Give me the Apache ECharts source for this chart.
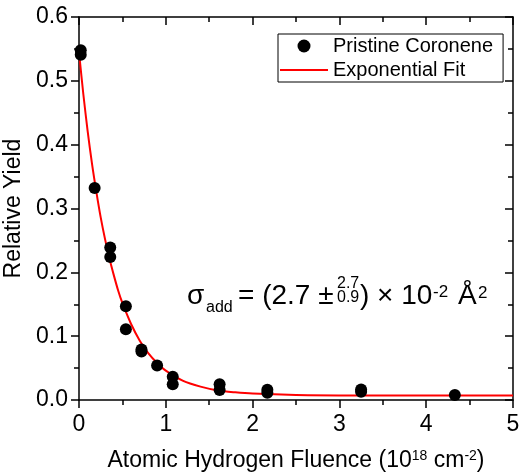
<!DOCTYPE html>
<html>
<head>
<meta charset="utf-8">
<script src="https://cdn.jsdelivr.net/npm/echarts@6/dist/echarts.min.js"></script>
<style>
html,body{margin:0;padding:0;background:#fff;}
#chart{width:520px;height:472px;}
</style>
</head>
<body>
<div id="chart"></div>
<script>
// Measured data (Relative yield vs atomic hydrogen fluence, 10^18 cm^-2)
const fluence = [0.02, 0.02, 0.18, 0.36, 0.36, 0.54, 0.54, 0.72, 0.72, 0.90, 1.08, 1.08, 1.62, 1.62, 2.17, 2.17, 3.25, 3.25, 4.33];
const yieldVals = [0.548, 0.541, 0.332, 0.239, 0.224, 0.147, 0.111, 0.079, 0.076, 0.054, 0.0365, 0.0246, 0.0246, 0.0157, 0.016, 0.0115, 0.0165, 0.013, 0.008];

// Exponential fit curve
const fitX = [0, 0.05, 0.1, 0.15, 0.2, 0.25, 0.3, 0.35, 0.4, 0.45, 0.5, 0.6, 0.7, 0.8, 0.9, 1.0, 1.2, 1.4, 1.6, 1.8, 2.0, 2.5, 3.0, 4.0, 5.0];
const fitY = [0.545, 0.479, 0.421, 0.370, 0.326, 0.286, 0.252, 0.222, 0.196, 0.172, 0.152, 0.119, 0.093, 0.073, 0.058, 0.046, 0.030, 0.021, 0.015, 0.012, 0.010, 0.0078, 0.0072, 0.0070, 0.0070];

const xTicks = ['0', '1', '2', '3', '4', '5'];
const yTicks = ['0.0', '0.1', '0.2', '0.3', '0.4', '0.5', '0.6'];

const FONT = 'Liberation Sans, Arial, sans-serif';
const chart = echarts.init(document.getElementById('chart'), null, {renderer: 'canvas'});

const scatterData = fluence.map((x, i) => [x, yieldVals[i]]);
const fitData = fitX.map((x, i) => [x, fitY[i]]);

const axisLine = {show: true, onZero: false, lineStyle: {color: '#000', width: 1.5}};
const tickStyle = {color: '#000', width: 1.5};

const option = {
  animation: false,
  backgroundColor: '#fff',
  grid: {left: 79, right: 7, top: 17, bottom: 72, containLabel: false, outerBoundsMode: 'none'},
  legend: {
    left: 278, top: 34,
    orient: 'vertical',
    borderColor: '#000', borderWidth: 1,
    padding: [2, 10, 2, 1],
    itemWidth: 48, itemHeight: 13, itemGap: 4,
    textStyle: {fontFamily: FONT, fontSize: 20, color: '#000'},
    data: [
      {name: 'Pristine Coronene', icon: 'circle', itemStyle: {color: '#000', opacity: 1}},
      {name: 'Exponential Fit', itemStyle: {color: 'rgba(0,0,0,0)', borderWidth: 0},
       lineStyle: {color: '#ff0000', width: 2}}
    ]
  },
  xAxis: [{
    type: 'value', min: 0, max: 5, interval: 1,
    name: 'Atomic Hydrogen Fluence (10{sup|18} cm{sup|-2})',
    nameLocation: 'middle', nameGap: 49,
    nameTextStyle: {fontFamily: FONT, fontSize: 23, color: '#000', lineHeight: 23,
      rich: {sup: {fontFamily: FONT, fontSize: 14, color: '#000', verticalAlign: 'top', lineHeight: 14}}},
    axisLine: axisLine,
    axisTick: {show: true, inside: false, length: 8, lineStyle: tickStyle},
    minorTick: {show: true, splitNumber: 2, length: 5, lineStyle: tickStyle},
    axisLabel: {fontFamily: FONT, fontSize: 23, color: '#000', margin: 13,
      formatter: v => xTicks[Math.round(v)]},
    splitLine: {show: false}
  }, {
    type: 'value', min: 0, max: 5, interval: 1, position: 'top',
    axisLine: axisLine,
    axisTick: {show: true, inside: true, length: 8, lineStyle: tickStyle},
    minorTick: {show: true, splitNumber: 2, length: 5, lineStyle: tickStyle},
    axisLabel: {show: false}, splitLine: {show: false}
  }],
  yAxis: [{
    type: 'value', min: 0, max: 0.6, interval: 0.1,
    name: 'Relative Yield',
    nameLocation: 'middle', nameGap: 49, nameRotate: 90,
    nameTextStyle: {fontFamily: FONT, fontSize: 23, color: '#000'},
    axisLine: axisLine,
    axisTick: {show: true, inside: false, length: 8, lineStyle: tickStyle},
    minorTick: {show: true, splitNumber: 2, length: 5, lineStyle: tickStyle},
    axisLabel: {fontFamily: FONT, fontSize: 23, color: '#000', margin: 11,
      formatter: v => yTicks[Math.round(v * 10)]},
    splitLine: {show: false}
  }, {
    type: 'value', min: 0, max: 0.6, interval: 0.1, position: 'right',
    axisLine: axisLine,
    axisTick: {show: true, inside: true, length: 8, lineStyle: tickStyle},
    minorTick: {show: true, splitNumber: 2, length: 5, lineStyle: tickStyle},
    axisLabel: {show: false}, splitLine: {show: false}
  }],
  series: [{
    name: 'Exponential Fit', type: 'line', data: fitData,
    xAxisIndex: 0, yAxisIndex: 0,
    smooth: 0.3, symbol: 'none', showSymbol: false,
    lineStyle: {color: '#ff0000', width: 2},
    itemStyle: {color: '#ff0000'},
    z: 3
  }, {
    name: 'Pristine Coronene', type: 'scatter', data: scatterData,
    xAxisIndex: 0, yAxisIndex: 0,
    symbol: 'circle', symbolSize: 12,
    itemStyle: {color: '#000', opacity: 1},
    z: 4
  }],
  graphic: [
    {type: 'text', left: 187, top: 282, style: {text: 'σ', font: '28px ' + FONT, fill: '#000'}},
    {type: 'text', left: 206, top: 300, style: {text: 'add', font: '16px ' + FONT, fill: '#000'}},
    {type: 'text', left: 238, top: 282, style: {text: '= (2.7 ±', font: '28px ' + FONT, fill: '#000'}},
    {type: 'text', left: 337, top: 276, style: {text: '2.7', font: '16px ' + FONT, fill: '#000'}},
    {type: 'text', left: 337, top: 290, style: {text: '0.9', font: '16px ' + FONT, fill: '#000'}},
    {type: 'text', left: 360, top: 282, style: {text: ') × 10', font: '28px ' + FONT, fill: '#000'}},
    {type: 'text', left: 433, top: 284, style: {text: '-2', font: '17px ' + FONT, fill: '#000'}},
    {type: 'text', left: 458, top: 282, style: {text: 'Å', font: '28px ' + FONT, fill: '#000'}},
    {type: 'text', left: 478, top: 285, style: {text: '2', font: '17px ' + FONT, fill: '#000'}}
  ]
};
chart.setOption(option);
</script>
</body>
</html>
